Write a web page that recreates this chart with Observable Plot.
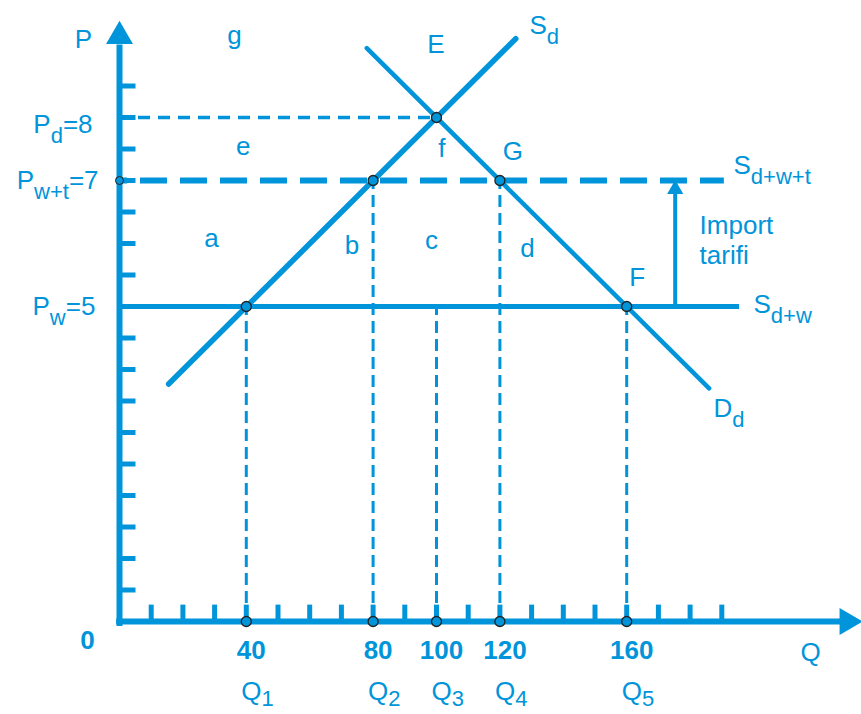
<!DOCTYPE html>
<html><head><meta charset="utf-8">
<script src="https://cdn.jsdelivr.net/npm/d3@7"></script>
<script src="https://cdn.jsdelivr.net/npm/@observablehq/plot@0.6"></script>
<style>html,body{margin:0;padding:0;background:#fff;} svg{display:block}</style>
</head><body><div id="chart"></div>
<script>
const blue = "#0095da";

// Axis tick positions
const xTicks = [10,20,30,40,50,60,70,80,90,100,110,120,130,140,150,160,170,180,190];
const yTicks = [0.5,1,1.5,2,2.5,3,3.5,4,4.5,5,5.5,6,6.5,7,7.5,8,8.5];

// Prices
const worldPrice = 5, tariffPrice = 7, domesticPrice = 8;

// Quantities Q1..Q5 and the price where each vertical guide ends
const quantities = [40, 80, 100, 120, 160];
const guideTop = [5, 7, 5, 7, 5];
const qTickLabels = ["40", "80", "100", "120", "160"];
const qNames = ["Q_{1}", "Q_{2}", "Q_{3}", "Q_{4}", "Q_{5}"];

// Intersection points
const pointQ = [40, 80, 100, 120, 160];
const pointP = [5, 7, 8, 7, 5];

// Curves (end points)
const supplyQ = [15.5, 125], supplyP = [3.77, 9.25];
const demandQ = [78, 186], demandP = [9.1, 3.7];

// Horizontal line extents
const worldEnd = 195.6, tariffEnd = 190.8;
const tariffArrowQ = 175.3;

// Region / point letters
const regionLabels = ["g","e","a","E","f","b","c","G","d","F"];
const regionQ = [36.3, 39, 29, 99.8, 101.7, 73.3, 98.4, 124.1, 128.7, 163.3];
const regionP = [9.16, 7.41, 5.95, 9.02, 7.37, 5.84, 5.92, 7.33, 5.79, 5.33];

// Curve names
const curveLabels = ["S_{d}", "S_{d+w+t}", "S_{d+w}", "D_{d}"];
const curveQ = [129.3, 193.7, 200, 187.4];
const curveP = [9.33, 7.11, 4.89, 3.24];

// Price labels on the y axis
const priceLabels = ["P_{d}=8", "P_{w+t}=7", "P_{w}=5"];
const priceLabelQ = [-8.5, -6.6, -7.6];
const priceLabelP = [7.75, 6.87, 4.86];

const zip = (a, b) => a.map((v, i) => ({q: v, p: b[i]}));
const supply = zip(supplyQ, supplyP);
const demand = zip(demandQ, demandP);
const points = zip(pointQ, pointP);
const guides = quantities.map((q, i) => ({q, top: guideTop[i], label: qTickLabels[i], name: qNames[i]}));
const regions = regionLabels.map((t, i) => ({t, q: regionQ[i], p: regionP[i]}));
const curves = curveLabels.map((t, i) => ({t, q: curveQ[i], p: curveP[i]}));
const prices = priceLabels.map((t, i) => ({t, q: priceLabelQ[i], p: priceLabelP[i]}));

const chart = Plot.plot({
  width: 861, height: 714,
  marginLeft: 119, marginRight: 108, marginTop: 54, marginBottom: 93,
  x: {domain: [0, 200], axis: null},
  y: {domain: [0, 9], axis: null},
  style: {fontFamily: "'Liberation Sans', Arial, sans-serif", background: "white", overflow: "visible"},
  marks: [
    // vertical dashed guides
    Plot.ruleX(guides, {x: "q", y1: 0, y2: "top", stroke: blue, strokeWidth: 3, strokeDasharray: "12,6"}),
    // Pd = 8 dashed
    Plot.ruleY([domesticPrice], {x1: 0, x2: 100, stroke: blue, strokeWidth: 3.5, strokeDasharray: "12,8", strokeDashoffset: 1}),
    // Pw+t = 7 dashed
    Plot.ruleY([tariffPrice], {x1: 0, x2: tariffEnd, stroke: blue, strokeWidth: 6, strokeDasharray: "27,13", strokeDashoffset: 19}),
    // Pw = 5 solid
    Plot.ruleY([worldPrice], {x1: 0, x2: worldEnd, stroke: blue, strokeWidth: 5}),
    // supply & demand
    Plot.line(supply, {x: "q", y: "p", stroke: blue, strokeWidth: 5.5}),
    Plot.line(demand, {x: "q", y: "p", stroke: blue, strokeWidth: 4.5}),
    // tariff arrow
    Plot.ruleX([tariffArrowQ], {y1: worldPrice, y2: 6.8, stroke: blue, strokeWidth: 4}),
    Plot.dot([tariffArrowQ], {x: d => d, y: 6.86, symbol: "triangle", r: 6, fill: blue, stroke: null}),
    // axes
    Plot.ruleY(yTicks, {x1: 0, x2: 5.2, stroke: blue, strokeWidth: 5}),
    Plot.ruleX(xTicks, {y1: 0, y2: 0.26, stroke: blue, strokeWidth: 5}),
    Plot.ruleX([0], {y1: -0.08, y2: 9.15, stroke: blue, strokeWidth: 6}),
    Plot.ruleY([0], {x1: -0.9, x2: 229, stroke: blue, strokeWidth: 6}),
    Plot.dot([0], {x: 0, y: 9.29, symbol: "triangle", r: 10, fill: blue, stroke: null}),
    Plot.dot([0], {x: 229.6, y: 0, symbol: "triangle", r: 10, rotate: 90, fill: blue, stroke: null}),
    // points
    Plot.dot(points, {x: "q", y: "p", r: 5, fill: blue, stroke: "#222", strokeWidth: 1.3}),
    Plot.dot(guides, {x: "q", y: 0, r: 5, fill: blue, stroke: "#222", strokeWidth: 1.3}),
    Plot.dot([tariffPrice], {x: 0, y: d => d, r: 4, fill: blue, stroke: "#222", strokeWidth: 1}),
    // texts
    Plot.text(regions, {x: "q", y: "p", text: "t", fill: blue, fontSize: 26, lineAnchor: "bottom", textAnchor: "middle"}),
    Plot.text(curves, {x: "q", y: "p", text: "t", fill: blue, fontSize: 26, lineAnchor: "bottom", textAnchor: "start"}),
    Plot.text(prices, {x: "q", y: "p", text: "t", fill: blue, fontSize: 26, lineAnchor: "bottom", textAnchor: "end"}),
    Plot.text(["Import\ntarifi"], {x: 183, y: 5.68, text: d => d, fill: blue, fontSize: 26, lineHeight: 1.15, lineAnchor: "bottom", textAnchor: "start"}),
    Plot.text(guides, {x: "q", y: -0.6, text: "label", dx: 5, fill: blue, fontSize: 26, fontWeight: "bold", lineAnchor: "bottom", textAnchor: "middle"}),
    Plot.text(guides, {x: "q", y: -1.25, text: "name", dx: -5, fill: blue, fontSize: 26, lineAnchor: "bottom", textAnchor: "start"}),
    Plot.text(["P"], {x: -11.4, y: 9.11, text: d => d, fill: blue, fontSize: 26, lineAnchor: "bottom", textAnchor: "middle"}),
    Plot.text(["0"], {x: -10.1, y: -0.43, text: d => d, fill: blue, fontSize: 26, fontWeight: "bold", lineAnchor: "bottom", textAnchor: "middle"}),
    Plot.text(["Q"], {x: 218, y: -0.62, text: d => d, fill: blue, fontSize: 26, lineAnchor: "bottom", textAnchor: "middle"})
  ]
});

// turn "_{...}" into real subscript tspans
chart.querySelectorAll("text").forEach(t => {
  if (t.querySelector("tspan")) return;
  const s = t.textContent;
  if (!s.includes("_{")) return;
  const shift = s.startsWith("Q") ? 6 : 10;
  t.textContent = "";
  let shifted = false;
  for (const part of s.split(/(_\{[^}]*\})/)) {
    if (!part) continue;
    const ts = document.createElementNS("http://www.w3.org/2000/svg", "tspan");
    if (part.startsWith("_{")) {
      ts.textContent = part.slice(2, -1);
      ts.setAttribute("dy", shift);
      ts.setAttribute("font-size", 22);
      shifted = true;
    } else {
      ts.textContent = part;
      if (shifted) { ts.setAttribute("dy", -shift); shifted = false; }
    }
    t.appendChild(ts);
  }
});

document.getElementById("chart").appendChild(chart);
</script>
</body></html>
